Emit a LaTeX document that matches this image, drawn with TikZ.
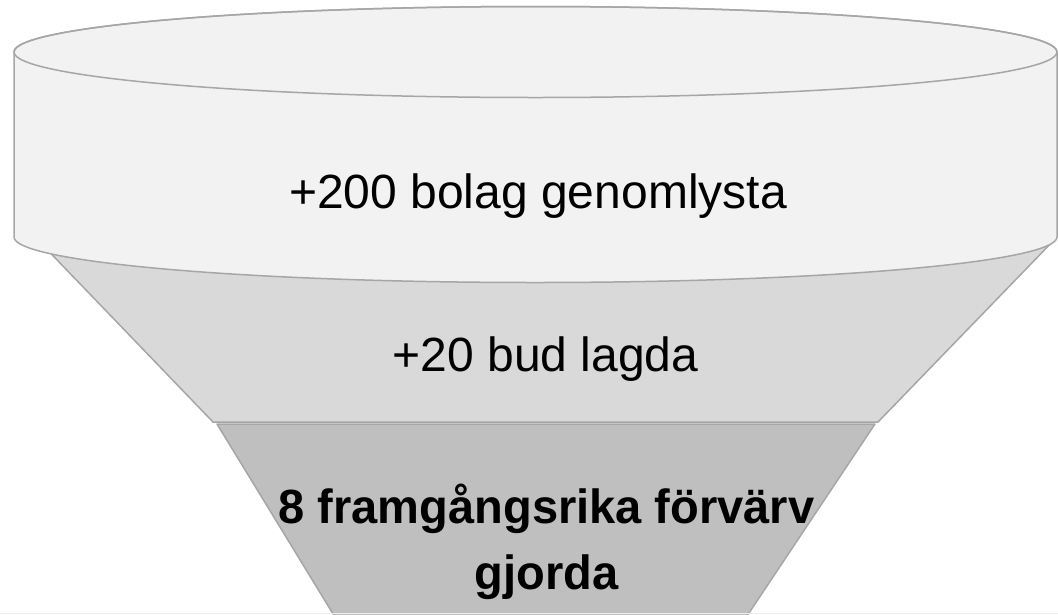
\documentclass[tikz,border=0pt]{standalone}
\usepackage{fontspec}
\setmainfont{Liberation Sans}
\newfontfamily\narrowbold[FakeStretch=0.98]{Liberation Sans Bold}
\definecolor{edge}{HTML}{A6A6A6}
\definecolor{topfill}{HTML}{F2F2F2}
\definecolor{midfill}{HTML}{D9D9D9}
\definecolor{lowfill}{HTML}{BFBFBF}
\definecolor{faintline}{HTML}{EEEEEE}
\begin{document}
\begin{tikzpicture}[x=1pt,y=-1pt,
  part/.style={draw=edge,line width=1.5pt,line join=round},
  label/.style={font=\fontsize{48}{66}\selectfont,text=black,inner sep=0pt,anchor=base,align=center}]
\useasboundingbox (0,0) rectangle (1058,614);
% middle section
\path[part,fill=midfill] (35,237) -- (1057,237) -- (878,422) -- (213,422) -- cycle;
% bottom section
\path[part,fill=lowfill] (217,424) -- (875,424) -- (743,622) -- (338,622) -- cycle;
% cylinder body
\path[part,fill=topfill] (14,52) -- (14,237)
  arc[start angle=180,end angle=0,x radius=521.5,y radius=45.5]
  -- (1057,52) arc[start angle=0,end angle=-180,x radius=521.5,y radius=45.5] -- cycle;
% top ellipse rim
\draw[part] (535.5,52) ellipse[x radius=521.5,y radius=45.5];
% faint bottom line
\draw[faintline,line width=1pt] (0,613.5) -- (1058,613.5);
% labels
\node[label] (t1) at (538,208) {+200 bolag genomlysta};
\node[label] (t2) at (545.5,371) {+20 bud lagda};
\node[label,font=\narrowbold\fontsize{48}{66}\selectfont] (t3) at (546.5,589) {8 framgångsrika förvärv\\gjorda};
\end{tikzpicture}
\end{document}
